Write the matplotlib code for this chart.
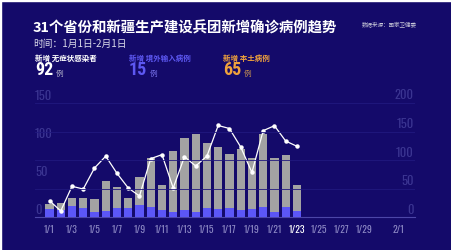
import matplotlib
matplotlib.use('Agg')
import matplotlib.pyplot as plt
import matplotlib.transforms as mtransforms
from matplotlib.patches import Rectangle

# 数据 (1/1 - 1/23)
dates = ['1/%d' % d for d in range(1, 32)] + ['2/1']
bar_total = [17, 18.4, 25.3, 25.3, 24.4, 48, 40.2, 25.3, 52.5, 77.8, 42, 87,
             104.5, 109, 98, 92.7, 82.7, 89.4, 77.6, 109.3, 77.8, 81.4, 42]
bar_blue = [10.9, 9.6, 15.2, 12.6, 7.4, 8.7, 12.6, 12.6, 16.1, 13.9, 10, 6.5,
            10, 7.4, 11.8, 10.3, 12.4, 9.4, 11.3, 13.5, 7, 13.1, 8.3]
line_vals = [21.8, 8.3, 40.7, 37.1, 64.7, 80.2, 57.7, 38.5, 28, 77, 82.2, 38.5,
             79.5, 67.3, 80.4, 120.5, 116.5, 92.3, 58.8, 113.7, 120.2, 100.1, 93.2]
tick_labels = ['1/1', '1/3', '1/5', '1/7', '1/9', '1/11', '1/13', '1/15', '1/17',
               '1/19', '1/21', '1/23', '1/25', '1/27', '1/29', '2/1']
left_ticks = [0, 50, 100, 150]
right_ticks = [0, 50, 100, 150, 200]

BG = '#140a6a'
GRAY = '#a3a3a3'
BLUE = '#5c56f7'
ORANGE = '#f0a23c'
CJK = ['Noto Sans CJK SC', 'DejaVu Sans']
NUM = ['Oswald', 'Roboto Condensed', 'DejaVu Sans']
BIG = ['Roboto Condensed', 'DejaVu Sans']

fig = plt.figure(figsize=(4.51, 2.51), dpi=100, facecolor=BG)
# 细白边
fig.patches.append(Rectangle((0, 1 - 2 / 251), 1, 2 / 251, transform=fig.transFigure,
                             color='white', zorder=10))
fig.patches.append(Rectangle((0, 0), 1.2 / 451, 1, transform=fig.transFigure,
                             color='white', zorder=10))

ax = fig.add_axes([35 / 451, 32.7 / 251, 380 / 451, 114.3 / 251])
ax.set_facecolor(BG)
ax2 = ax.twinx()

x = list(range(len(bar_total)))
gray_part = [t - b for t, b in zip(bar_total, bar_blue)]
ax.bar(x, bar_blue, width=0.74, color=BLUE, zorder=3)
ax.bar(x, gray_part, bottom=bar_blue, width=0.74, color=GRAY, zorder=3)
ax.plot(x, line_vals, color='white', lw=0.9, marker='o', markersize=2.2, zorder=4)

ax.set_xlim(-1.29, 32.5)
ax.set_ylim(0, 150)
ax2.set_ylim(0, 200)

for a in (ax, ax2):
    for s in a.spines.values():
        s.set_visible(False)
    a.set_yticks([])
ax.spines['bottom'].set_visible(True)
ax.spines['bottom'].set_color('#4c46a8')
ax.spines['bottom'].set_linewidth(0.8)

# 网格 (右轴刻度)
for v in right_ticks[1:]:
    ax2.axhline(v, color='#21197f', lw=0.6, zorder=0)

# y 轴文字 (在网格线上方)
left_tr = mtransforms.offset_copy(
    mtransforms.blended_transform_factory(ax.transAxes, ax.transData), fig=fig, y=2.5, units='dots')
for v in left_ticks:
    ax.text(0.0, v, str(v), transform=left_tr, ha='left', va='bottom',
            fontsize=9, fontweight='light', color='#3b3592', family=NUM)
right_tr = mtransforms.offset_copy(
    mtransforms.blended_transform_factory(ax2.transAxes, ax2.transData), fig=fig, y=2.5, units='dots')
for v in right_ticks:
    ax2.text(0.997, v, str(v), transform=right_tr, ha='right', va='bottom',
             fontsize=9, fontweight='light', color='#3b3592', family=NUM)

# x 轴
tick_pos = [dates.index(t) for t in tick_labels]
ax.set_xticks(tick_pos)
ax.set_xticklabels(tick_labels, family=NUM, fontsize=7, color='#8c88c4')
ax.tick_params(axis='x', length=0, pad=4.5)
for lbl in ax.get_xticklabels():
    if lbl.get_text() == '1/23':
        lbl.set_color('white')
        lbl.set_fontweight('bold')

# 标题区
fig.text(33 / 451, 1 - 28.3 / 251, '31个省份和新疆生产建设兵团新增确诊病例趋势',
         family=CJK, fontsize=10.4, fontweight='bold', color='white', va='center')
fig.text(362 / 451, 1 - 24 / 251, '数据来源：国家卫健委', family=CJK, fontsize=4,
         color='#c8c8d8', va='center')
fig.text(33 / 451, 1 - 44 / 251, '时间：1月1日-2月1日', family=CJK, fontsize=7,
         color='#dcdcea', va='center')

stats = [
    (35, '新增 无症状感染者', '92', 'white', '#b0b0c8'),
    (129, '新增 境外输入病例', '15', '#5d58f2', '#7a75ee'),
    (223, '新增 本土病例', '65', ORANGE, '#c79250'),
]
renderer = fig.canvas.get_renderer()
for px, label, num, col, unit_col in stats:
    fig.text(px / 451, 1 - 58.5 / 251, label, family=CJK, fontsize=5.4,
             fontweight='bold', color=col, va='center')
    t = fig.text(px / 451, 1 - 70.5 / 251, num, family=BIG, fontsize=13,
                 fontweight='bold', color=col, va='center')
    x1 = t.get_window_extent(renderer).x1
    fig.text((x1 + 2.5) / 451, 1 - 74 / 251, '例', family=CJK, fontsize=5.5,
             color=unit_col, va='center')

fig.savefig('out.png', dpi=100, facecolor=BG)
